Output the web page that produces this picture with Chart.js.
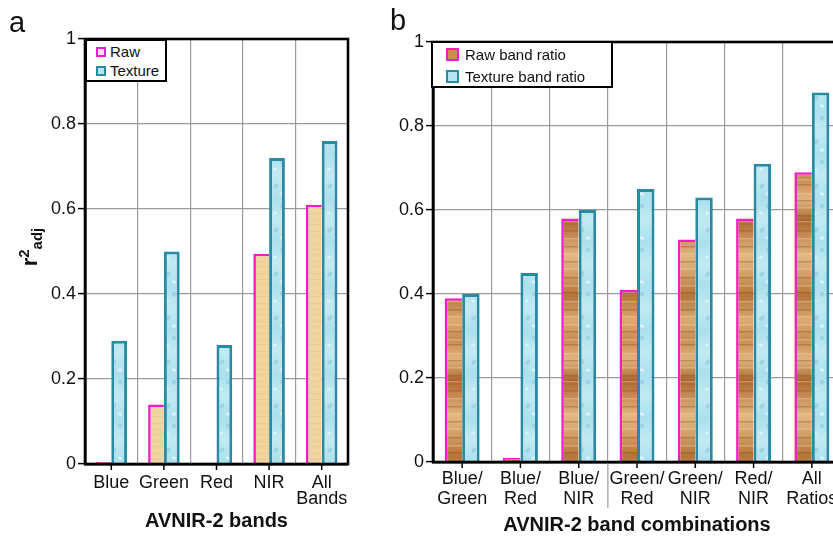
<!DOCTYPE html>
<html>
<head>
<meta charset="utf-8">
<script src="https://cdn.jsdelivr.net/npm/chart.js@4/dist/chart.umd.min.js"></script>
<style>
  html, body { margin:0; padding:0; background:#fff; overflow:hidden; }
  #wrap { position:relative; width:833px; height:536px; overflow:hidden; font-family:"Liberation Sans", Arial, sans-serif; color:#111; }
  #ca { position:absolute; left:0; top:0; }
  #cb { position:absolute; left:360px; top:0; }
  .letter { position:absolute; font-size:29px; line-height:1; }
  .legend { position:absolute; background:#fff; border:2px solid #000; box-sizing:border-box; font-size:15px; }
  .item { position:absolute; display:flex; align-items:center; white-space:nowrap; }
  .mk { box-sizing:border-box; display:inline-block; margin-right:4px; }
  #ytitle { position:absolute; left:30px; top:247px; transform:translate(-50%,-50%) rotate(-90deg); font-weight:bold; font-size:22px; white-space:nowrap; }
  #ytitle sup { font-size:15px; }
  #ytitle sub { font-size:15px; }
</style>
</head>
<body>
<div id="wrap">
  <canvas id="ca" width="360" height="536" style="width:360px;height:536px"></canvas>
  <canvas id="cb" width="500" height="536" style="width:500px;height:536px"></canvas>
  <div class="letter" style="left:9px;top:8px;">a</div>
  <div class="letter" style="left:390px;top:6px;">b</div>
  <div id="ytitle">r<sup>2</sup><sub>adj</sub></div>
  <div class="legend" style="left:85px;top:39px;width:82px;height:43px;">
    <div class="item" style="left:9px;top:2px;"><span class="mk" style="width:10px;height:10px;border:2px solid #ee1ccc;background:#f7e4ef;"></span>Raw</div>
    <div class="item" style="left:9px;top:21px;"><span class="mk" style="width:10px;height:10px;border:2px solid #2a8aa3;background:#b5e6f0;"></span>Texture</div>
  </div>
  <div class="legend" style="left:431px;top:41px;width:182px;height:47px;">
    <div class="item" style="left:13px;top:3px;"><span class="mk" style="width:13px;height:13px;border:2px solid #ee1ccc;background:#c98c52;margin-right:6px;"></span>Raw band ratio</div>
    <div class="item" style="left:13px;top:25px;"><span class="mk" style="width:13px;height:13px;border:2px solid #2a8aa3;background:#b5e6f0;margin-right:6px;"></span>Texture band ratio</div>
  </div>
</div>
<script>
// ---------- DATA ----------
const bandLabels = ['Blue', 'Green', 'Red', 'NIR', ['All', 'Bands']];
const rawBands = [0.005, 0.14, 0.003, 0.495, 0.61];
const textureBands = [0.29, 0.50, 0.28, 0.72, 0.76];

const ratioLabels = [['Blue/', 'Green'], ['Blue/', 'Red'], ['Blue/', 'NIR'], ['Green/', 'Red'], ['Green/', 'NIR'], ['Red/', 'NIR'], ['All', 'Ratios']];
const rawRatios = [0.39, 0.01, 0.58, 0.41, 0.53, 0.58, 0.69];
const textureRatios = [0.40, 0.45, 0.60, 0.65, 0.63, 0.71, 0.88];

const yTicks = [0, 0.2, 0.4, 0.6, 0.8, 1];
const yTickText = ['0', '0.2', '0.4', '0.6', '0.8', '1'];

// ---------- STYLE PATTERNS ----------
function tanPattern() {
  const c = document.createElement('canvas'); c.width = 16; c.height = 30;
  const g = c.getContext('2d');
  g.fillStyle = '#f1d5a1'; g.fillRect(0, 0, 16, 30);
  g.fillStyle = 'rgba(225,185,125,0.35)';
  [3, 9, 14, 21, 26].forEach(y => g.fillRect(0, y, 16, 1));
  return g.createPattern(c, 'repeat');
}
function woodPattern() {
  const c = document.createElement('canvas'); c.width = 20; c.height = 160;
  const g = c.getContext('2d');
  const gr = g.createLinearGradient(0, 0, 0, 160);
  gr.addColorStop(0, '#dbab72'); gr.addColorStop(0.12, '#c98d52');
  gr.addColorStop(0.25, '#e0b47e'); gr.addColorStop(0.38, '#a8662c');
  gr.addColorStop(0.46, '#c48650'); gr.addColorStop(0.6, '#e2b780');
  gr.addColorStop(0.72, '#d29e66'); gr.addColorStop(0.85, '#b47438');
  gr.addColorStop(1, '#dbab72');
  g.fillStyle = gr; g.fillRect(0, 0, 20, 160);
  const lines = [4, 11, 19, 24, 33, 40, 47, 55, 61, 70, 78, 86, 93, 101, 108, 117, 125, 132, 141, 149, 156];
  lines.forEach((y, i) => {
    g.fillStyle = i % 2 ? 'rgba(115,65,25,0.3)' : 'rgba(250,222,185,0.35)';
    g.fillRect(0, y, 20, 1.5);
  });
  return g.createPattern(c, 'repeat');
}
function waterPattern() {
  const c = document.createElement('canvas'); c.width = 18; c.height = 44;
  const g = c.getContext('2d');
  const gr = g.createLinearGradient(0, 0, 0, 44);
  gr.addColorStop(0, '#c2eaf3'); gr.addColorStop(0.5, '#abe0ed'); gr.addColorStop(1, '#c2eaf3');
  g.fillStyle = gr; g.fillRect(0, 0, 18, 44);
  g.fillStyle = 'rgba(120,190,210,0.4)';
  g.beginPath(); g.ellipse(6, 10, 2, 3, 0.6, 0, Math.PI * 2); g.fill();
  g.beginPath(); g.ellipse(12, 30, 2, 2.5, -0.5, 0, Math.PI * 2); g.fill();
  g.fillStyle = 'rgba(232,249,252,0.7)';
  g.beginPath(); g.ellipse(12, 18, 2.5, 1.5, 0.3, 0, Math.PI * 2); g.fill();
  g.beginPath(); g.ellipse(5, 37, 2, 1.5, 0, 0, Math.PI * 2); g.fill();
  return g.createPattern(c, 'repeat');
}

const FONT = '"Liberation Sans", Arial, sans-serif';
const MAGENTA = '#ee1ccc';
const TEAL = '#2a8aa3';
const GRID = '#9b9b9b';

const framePlugin = {
  id: 'frame',
  afterDraw(chart, args, opts) {
    const { ctx, chartArea: a, scales } = chart;
    const x = scales.x;
    ctx.save();
    ctx.strokeStyle = '#000'; ctx.lineWidth = 1.5;
    for (let i = 0; i < chart.data.labels.length; i++) {
      const px = x.getPixelForValue(i);
      ctx.beginPath(); ctx.moveTo(px, a.bottom); ctx.lineTo(px, a.bottom + 6); ctx.stroke();
    }
    if (opts.divider != null) {
      const px = (x.getPixelForValue(opts.divider) + x.getPixelForValue(opts.divider + 1)) / 2;
      ctx.strokeStyle = GRID; ctx.lineWidth = 1.2;
      ctx.beginPath(); ctx.moveTo(px, a.bottom); ctx.lineTo(px, a.bottom + 46); ctx.stroke();
    }
    ctx.strokeStyle = '#000'; ctx.lineWidth = 2.6;
    ctx.strokeRect(a.left, a.top, a.right - a.left, a.bottom - a.top);
    ctx.restore();
  }
};

function makeChart(id, labels, raw, tex, rawFill, geo) {
  return new Chart(document.getElementById(id), {
    type: 'bar',
    data: {
      labels: labels,
      datasets: [
        { label: 'raw', data: raw, backgroundColor: rawFill, borderColor: MAGENTA,
          borderWidth: { left: 2.6, top: 2.6, right: 0, bottom: 0 }, borderSkipped: 'start',
          categoryPercentage: 0.6, barPercentage: 1.0 },
        { label: 'texture', data: tex, backgroundColor: waterPattern(), borderColor: TEAL,
          borderWidth: 3, borderSkipped: 'start',
          categoryPercentage: 0.6, barPercentage: 1.0 }
      ]
    },
    options: {
      responsive: false,
      animation: false,
      layout: { padding: { top: geo.top, right: geo.right, left: 0, bottom: 0 } },
      plugins: { legend: { display: false }, tooltip: { enabled: false }, frame: { divider: geo.divider } },
      scales: {
        x: {
          offset: true,
          grid: { color: GRID, lineWidth: 1.2, drawTicks: false, offset: true },
          border: { color: '#000', width: 2.6 },
          ticks: { color: '#111', font: { family: FONT, size: 18, lineHeight: geo.lh }, padding: geo.tpad, maxRotation: 0, autoSkip: false },
          title: { display: true, text: geo.xtitle, color: '#111', font: { family: FONT, size: 20, weight: 'bold', lineHeight: 1.1 }, padding: { top: 0, bottom: geo.titlePad } },
          afterFit: s => { s.width = s.width; s.height = geo.xh; }
        },
        y: {
          min: 0, max: 1,
          afterBuildTicks: s => { s.ticks = yTicks.map(v => ({ value: v })); },
          grid: { color: GRID, lineWidth: 1.2, tickColor: '#000', tickLength: 7, tickWidth: 1.5 },
          border: { color: '#000', width: 2.6 },
          ticks: { color: '#111', font: { family: FONT, size: 18 }, padding: 2,
                   callback: (v) => yTickText[yTicks.indexOf(v)] ?? String(v) },
          afterFit: s => { s.width = geo.yw; }
        }
      }
    },
    plugins: [framePlugin]
  });
}

makeChart('ca', bandLabels, rawBands, textureBands, tanPattern(),
  { top: 39, right: 12, yw: 85, xh: 72, lh: 0.9, tpad: 11, xtitle: 'AVNIR-2 bands', titlePad: 4, divider: null });
makeChart('cb', ratioLabels, rawRatios, textureRatios, woodPattern(),
  { top: 42, right: 19, yw: 73, xh: 74, lh: 1.1, tpad: 7, xtitle: 'AVNIR-2 band combinations', titlePad: 0, divider: 2 });
</script>
</body>
</html>
